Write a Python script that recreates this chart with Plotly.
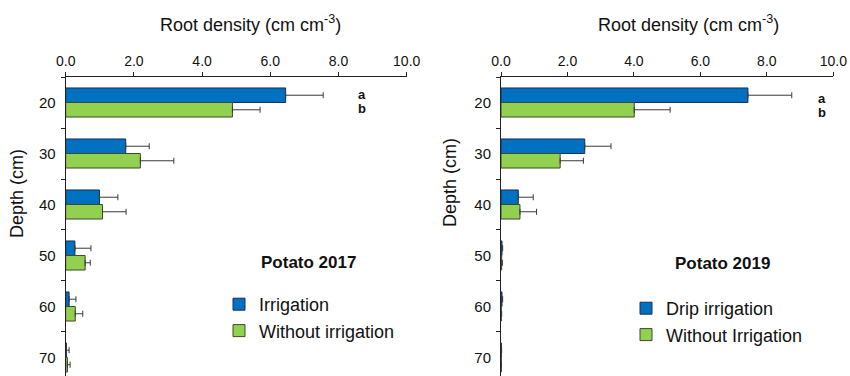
import plotly.graph_objects as go

# Root length density by soil depth, two potato seasons
depths = ["20", "30", "40", "50", "60", "70"]

irr_2017 = [6.45, 1.76, 0.99, 0.27, 0.10, 0.02]
irr_2017_err = [1.10, 0.69, 0.54, 0.47, 0.20, 0.08]
dry_2017 = [4.89, 2.19, 1.08, 0.57, 0.28, 0.05]
dry_2017_err = [0.81, 0.98, 0.69, 0.15, 0.22, 0.08]

irr_2019 = [7.43, 2.52, 0.52, 0.03, 0.03, 0.01]
irr_2019_err = [1.32, 0.79, 0.45, 0.02, 0.02, 0.01]
dry_2019 = [4.01, 1.78, 0.57, 0.02, 0.01, 0.01]
dry_2019_err = [1.08, 0.70, 0.50, 0.02, 0.01, 0.00]

x_ticks = [0, 2, 4, 6, 8, 10]
x_tick_text = ["0.0", "2.0", "4.0", "6.0", "8.0", "10.0"]
sig_letters = ["a", "b"]

W, H = 850, 376
FONT = "Liberation Sans, Arial, sans-serif"
BLUE, BLUE_EDGE = "#0070C0", "#1B2F5E"
GREEN, GREEN_EDGE = "#92D050", "#3C4A30"
ERR = "#3a3a3a"


def px(x):
    return x / W


def py(y):
    return 1 - y / H


fig = go.Figure()


def add_bar(vals, errs, name, fill, edge, xa, ya, legend):
    # one-sided (upper) error bars
    fig.add_trace(go.Bar(
        y=depths, x=vals, orientation="h", name=name,
        marker=dict(color=fill, line=dict(color=edge, width=1)),
        error_x=dict(type="data", symmetric=False, array=errs,
                     arrayminus=[0] * len(errs), visible=True,
                     color=ERR, thickness=1, width=3),
        xaxis=xa, yaxis=ya, legend=legend,
    ))


add_bar(irr_2017, irr_2017_err, "Irrigation", BLUE, BLUE_EDGE, "x", "y", "legend")
add_bar(dry_2017, dry_2017_err, "Without irrigation", GREEN, GREEN_EDGE, "x", "y", "legend")
add_bar(irr_2019, irr_2019_err, "Drip irrigation", BLUE, BLUE_EDGE, "x2", "y2", "legend2")
add_bar(dry_2019, dry_2019_err, "Without Irrigation", GREEN, GREEN_EDGE, "x2", "y2", "legend2")

y_top = py(77)
y_range = [5.363, -0.5]

xaxis_common = dict(
    range=[0, 10], tickvals=x_ticks, ticktext=x_tick_text, side="top",
    showline=True, linecolor="#222", linewidth=1, ticks="outside", ticklen=4,
    tickcolor="#222", showgrid=False, zeroline=False, ticklabelstandoff=0,
    tickfont=dict(family=FONT, size=14, color="#111"), fixedrange=True,
    automargin=False,
)
yaxis_common = dict(
    range=y_range, type="category", showline=True, linecolor="#222", linewidth=1,
    ticks="outside", ticklen=4, tickcolor="#222", tickson="boundaries",
    showgrid=False, zeroline=False, ticklabelstandoff=6,
    tickfont=dict(family=FONT, size=15, color="#111"), fixedrange=True,
    automargin=False,
)

legend_font = dict(family=FONT, size=18, color="#111")
fig.update_layout(
    width=W, height=H, margin=dict(l=0, r=0, t=0, b=0),
    paper_bgcolor="white", plot_bgcolor="white",
    barmode="group", bargap=0.43, bargroupgap=0,
    font=dict(family=FONT, color="#111"),
    xaxis=dict(domain=[px(65.7), px(406.7)], anchor="y", **xaxis_common),
    yaxis=dict(domain=[0, y_top], anchor="x", **yaxis_common),
    xaxis2=dict(domain=[px(501), px(833.3)], anchor="y2", **xaxis_common),
    yaxis2=dict(domain=[0, y_top], anchor="x2", **yaxis_common),
    legend=dict(x=px(219), y=py(286), xanchor="left", yanchor="top",
                traceorder="normal", itemwidth=30, bgcolor="rgba(0,0,0,0)",
                font=legend_font),
    legend2=dict(x=px(626), y=py(290), xanchor="left", yanchor="top",
                 traceorder="normal", itemwidth=30, bgcolor="rgba(0,0,0,0)",
                 font=legend_font),
)

annotations = []
# axis titles
for cx in (250, 688):
    annotations.append(dict(
        text="Root density (cm cm<sup>-3</sup>)", x=px(cx), y=py(23),
        xref="paper", yref="paper", xanchor="center", yanchor="middle",
        showarrow=False, font=dict(family=FONT, size=18, color="#111")))
for cx, cy in ((17, 194), (450, 183)):
    annotations.append(dict(
        text="Depth (cm)", x=px(cx), y=py(cy), xref="paper", yref="paper",
        xanchor="center", yanchor="middle",
        textangle=-90, showarrow=False,
        font=dict(family=FONT, size=18, color="#111")))
# panel labels
for label, cx, cy in (("Potato 2017", 308, 262), ("Potato 2019", 722, 263)):
    annotations.append(dict(
        text=f"<b>{label}</b>", x=px(cx), y=py(cy), xref="paper", yref="paper",
        xanchor="center", yanchor="middle",
        showarrow=False, font=dict(family=FONT, size=17, color="#111")))
# significance letters beside the 20 cm bars
for xr, lx, ys in (("x", 8.69, (94, 108)), ("x2", 9.67, (98, 113))):
    for letter, yy in zip(sig_letters, ys):
        annotations.append(dict(
            text=f"<b>{letter}</b>", x=lx, y=py(yy), xref=xr, yref="paper",
            xanchor="center", yanchor="middle", showarrow=False,
            font=dict(family=FONT, size=13, color="#111")))

fig.update_layout(annotations=annotations)
fig.write_html("out.html")
